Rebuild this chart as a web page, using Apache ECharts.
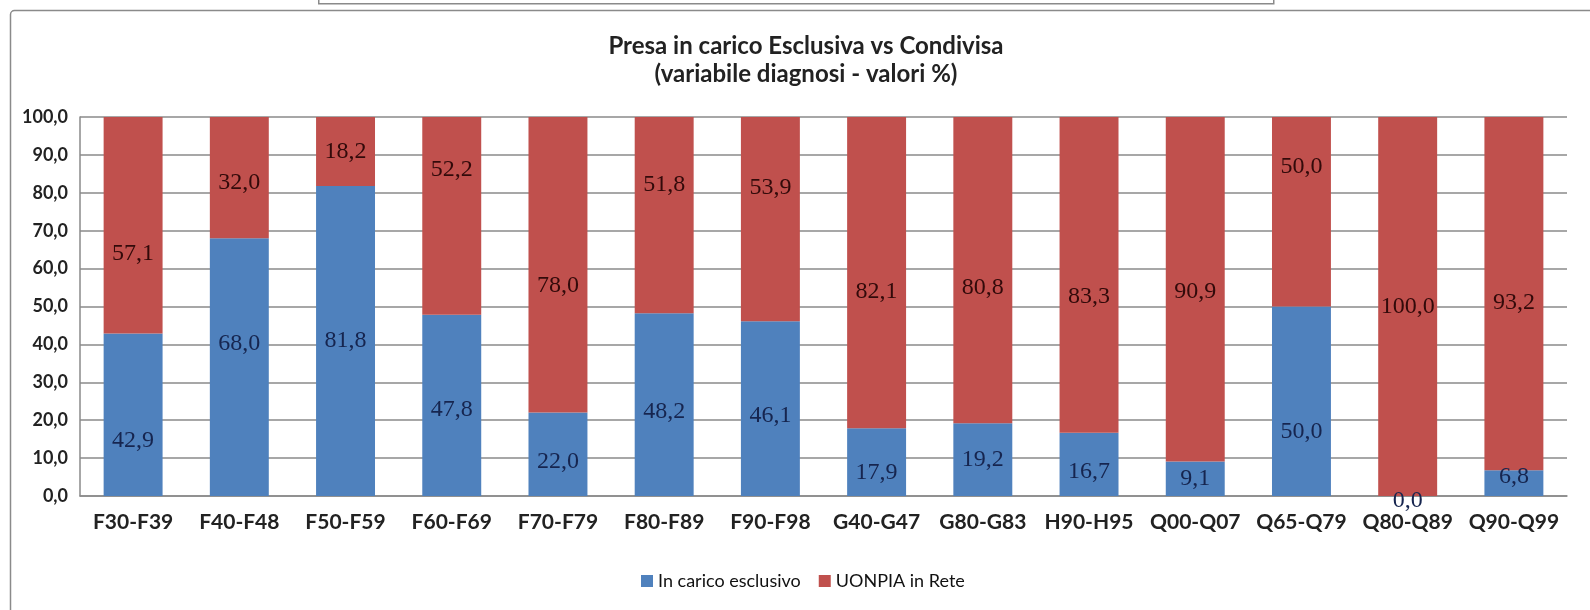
<!DOCTYPE html>
<html>
<head>
<meta charset="utf-8">
<script src="https://cdn.jsdelivr.net/npm/echarts@6/dist/echarts.min.js"></script>
<style>
  html, body { margin: 0; padding: 0; background: #fff; }
  #chart { width: 1590px; height: 610px; }
</style>
</head>
<body>
<div id="chart"></div>
<script>
  // categorie diagnosi
  var categories = ['F30-F39', 'F40-F48', 'F50-F59', 'F60-F69', 'F70-F79', 'F80-F89', 'F90-F98',
    'G40-G47', 'G80-G83', 'H90-H95', 'Q00-Q07', 'Q65-Q79', 'Q80-Q89', 'Q90-Q99'];
  // valori %
  var esclusivo = [42.9, 68.0, 81.8, 47.8, 22.0, 48.2, 46.1, 17.9, 19.2, 16.7, 9.1, 50.0, 0.0, 6.8];
  var inRete = [57.1, 32.0, 18.2, 52.2, 78.0, 51.8, 53.9, 82.1, 80.8, 83.3, 90.9, 50.0, 100.0, 93.2];

  // spostamento verticale delle etichette (come spostate a mano nel grafico originale)
  var shiftEsclusivo = [26, -23, 0, 4, 7, 7, 7, 11, 0, 7, 0, 30, 5, -6];
  var shiftRete = [28, 5, 0, -46, 21, -30, -31, 19, 18, 22, 2, -45, 0, 9];

  var fmt = function (v) {
    return Number(v).toFixed(1).replace('.', ',');
  };

  function withShift(values, shifts) {
    return values.map(function (v, i) {
      return {value: v, label: {offset: [0, shifts[i]]}};
    });
  }

  var chart = echarts.init(document.getElementById('chart'));
  var option = {
    animation: false,
    backgroundColor: '#fff',
    color: ['#4F81BD', '#C0504D'],
    textStyle: {fontFamily: 'Lato'},
    graphic: [
      // cornice esterna
      {
        type: 'rect', left: 8, top: 8, silent: true,
        shape: {width: 1600, height: 620, r: 4},
        style: {fill: 'none', stroke: '#8a8a8a', lineWidth: 1.5}
      },
      // riquadro in alto
      {
        type: 'rect', left: 318, top: -10, silent: true,
        shape: {width: 955, height: 13},
        style: {fill: '#fff', stroke: '#8a8a8a', lineWidth: 1.5}
      }
    ],
    title: {
      text: 'Presa in carico Esclusiva vs Condivisa\n(variabile diagnosi - valori %)',
      left: 801,
      top: 27,
      textAlign: 'center',
      textStyle: {
        fontFamily: 'Lato',
        fontSize: 24,
        fontWeight: 'bold',
        color: '#222',
        lineHeight: 28,
        align: 'center'
      }
    },
    legend: {
      data: ['In carico esclusivo', 'UONPIA in Rete'],
      left: 641,
      top: 572,
      padding: 0,
      itemWidth: 12,
      itemHeight: 12,
      itemGap: 18,
      icon: 'rect',
      textStyle: {fontFamily: 'Lato', fontSize: 18, color: '#111'}
    },
    grid: {left: 80, right: 23, top: 117, bottom: 114},
    xAxis: {
      type: 'category',
      data: categories,
      axisLine: {lineStyle: {color: '#8a8a8a', width: 1.5}},
      axisTick: {show: false},
      axisLabel: {
        interval: 0,
        margin: 16,
        fontFamily: 'Lato',
        fontSize: 21,
        fontWeight: 'bold',
        color: '#222'
      }
    },
    yAxis: {
      type: 'value',
      min: 0,
      max: 100,
      interval: 10,
      axisLine: {show: true, lineStyle: {color: '#8a8a8a', width: 1.5}},
      axisTick: {show: false},
      splitLine: {lineStyle: {color: '#8a8a8a', width: 1.5}},
      axisLabel: {
        margin: 12,
        fontFamily: 'Lato',
        fontSize: 18,
        fontWeight: 'bold',
        color: '#222',
        formatter: fmt
      }
    },
    series: [
      {
        name: 'In carico esclusivo',
        type: 'bar',
        stack: 'tot',
        barWidth: '55.5%',
        data: withShift(esclusivo, shiftEsclusivo),
        label: {
          show: true,
          position: 'inside',
          fontFamily: 'Liberation Serif',
          fontSize: 24,
          color: '#16254f',
          formatter: function (p) { return fmt(p.value); }
        }
      },
      {
        name: 'UONPIA in Rete',
        type: 'bar',
        stack: 'tot',
        barWidth: '55.5%',
        data: withShift(inRete, shiftRete),
        label: {
          show: true,
          position: 'inside',
          fontFamily: 'Liberation Serif',
          fontSize: 24,
          color: '#320a0a',
          formatter: function (p) { return fmt(p.value); }
        }
      }
    ]
  };
  chart.setOption(option);
</script>
</body>
</html>
